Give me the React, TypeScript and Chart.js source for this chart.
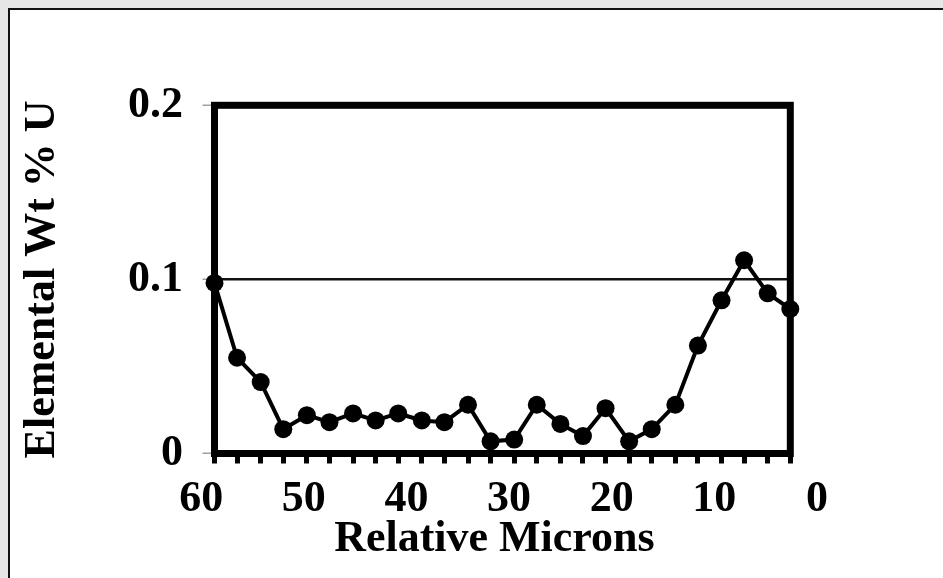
import React, { useEffect, useRef } from 'react';
import { Chart, registerables } from 'chart.js';

Chart.register(...registerables);

// Distance along the traverse (µm) for each analysis spot, read right-to-left
const MICRONS = [
  58.7, 56.5, 54.2, 52.0, 49.7, 47.5, 45.2, 43.0, 40.8, 38.5, 36.3, 34.0, 31.8,
  29.5, 27.3, 25.0, 22.8, 20.6, 18.3, 16.1, 13.8, 11.6, 9.3, 7.1, 4.8, 2.6,
];

// Uranium content (elemental wt %) at each spot
const WT_U = [
  0.098, 0.055, 0.041, 0.014, 0.022, 0.018, 0.023, 0.019, 0.023, 0.019, 0.018,
  0.028, 0.007, 0.008, 0.028, 0.017, 0.010, 0.026, 0.007, 0.014, 0.028, 0.062,
  0.088, 0.111, 0.092, 0.083,
];

const Y_TICKS = [0, 0.1, 0.2];
const X_LABELS = [60, 50, 40, 30, 20, 10, 0];
const X_TITLE = 'Relative Microns';
const Y_TITLE = 'Elemental Wt % U';

const FONT_FAMILY = "'Liberation Serif', 'Times New Roman', Times, serif";
const FONT_SIZE = 44;

// Heavy box around the plotting area, drawn under the markers
const framePlugin = {
  id: 'frame',
  beforeDatasetsDraw(chart: any) {
    const { ctx, chartArea: a } = chart;
    ctx.save();
    ctx.strokeStyle = '#000';
    ctx.lineWidth = 7;
    ctx.lineJoin = 'miter';
    ctx.strokeRect(a.left, a.top, a.right - a.left, a.bottom - a.top);
    ctx.restore();
  },
};

// Round-number labels along the distance axis (0 sits past the last spot)
const xLabelPlugin = {
  id: 'xLabels',
  afterDraw(chart: any) {
    const { ctx, chartArea } = chart;
    const x = chart.scales.x;
    ctx.save();
    ctx.fillStyle = '#000';
    ctx.font = `bold ${FONT_SIZE}px ${FONT_FAMILY}`;
    ctx.textAlign = 'center';
    ctx.textBaseline = 'middle';
    X_LABELS.forEach((v) => {
      ctx.fillText(String(v), x.getPixelForValue(v), x.top + 46.5);
    });
    ctx.fillText(X_TITLE, (chartArea.left + chartArea.right) / 2 - 8, x.top + 86.5);
    ctx.restore();
  },
};

export default function App() {
  const canvasRef = useRef<HTMLCanvasElement | null>(null);

  useEffect(() => {
    const canvas = canvasRef.current;
    if (!canvas) return;
    const font = { family: FONT_FAMILY, size: FONT_SIZE, weight: 'bold' as const };

    const chart = new Chart(canvas, {
      type: 'line',
      data: {
        datasets: [
          {
            data: MICRONS.map((m, i) => ({ x: m, y: WT_U[i] })),
            borderColor: '#000',
            borderWidth: 4,
            pointRadius: 9,
            pointBackgroundColor: '#000',
            pointBorderColor: '#000',
            pointBorderWidth: 0,
            tension: 0,
            clip: false as any,
          },
        ],
      },
      options: {
        animation: false,
        responsive: false,
        devicePixelRatio: 1,
        layout: { padding: { left: 0, top: 95.3, right: 152.7, bottom: 0 } },
        plugins: { legend: { display: false }, tooltip: { enabled: false } },
        scales: {
          x: {
            type: 'linear',
            reverse: true,
            min: MICRONS[MICRONS.length - 1],
            max: MICRONS[0],
            border: { display: false },
            grid: {
              drawOnChartArea: false,
              drawTicks: true,
              tickLength: 10,
              tickWidth: 5,
              tickColor: '#000',
            },
            ticks: { display: false },
            afterBuildTicks: (axis: any) => {
              axis.ticks = MICRONS.map((v) => ({ value: v }));
            },
            afterFit: (axis: any) => {
              axis.height = 124.5;
            },
          },
          y: {
            min: Y_TICKS[0],
            max: Y_TICKS[Y_TICKS.length - 1],
            border: { display: false },
            grid: {
              color: (ctx: any) =>
                Math.abs(ctx.tick.value - Y_TICKS[1]) < 1e-9 ? '#111' : 'rgba(0,0,0,0)',
              lineWidth: 2.5,
              tickLength: 12,
              tickColor: '#a0a0a0',
              tickWidth: 1.5,
            },
            afterBuildTicks: (axis: any) => {
              axis.ticks = Y_TICKS.map((v) => ({ value: v }));
            },
            ticks: {
              padding: 19.5,
              color: '#000',
              font,
              callback: (v: any) => String(v),
            },
            title: {
              display: true,
              text: Y_TITLE,
              color: '#000',
              font,
              padding: { top: 6.6, bottom: 0 },
            },
            afterFit: (axis: any) => {
              axis.width = 204.5;
            },
          },
        },
      },
      plugins: [framePlugin, xLabelPlugin],
    });

    return () => chart.destroy();
  }, []);

  return (
    <div style={{ position: 'fixed', inset: 0, background: '#e6e6e6' }}>
      <div
        style={{
          position: 'absolute',
          left: 8,
          top: 8,
          right: 0,
          bottom: 0,
          borderTop: '2px solid #111',
          borderLeft: '2px solid #111',
          background: '#fff',
          overflow: 'hidden',
        }}
      >
        <canvas
          ref={canvasRef}
          width={933}
          height={568}
          style={{ display: 'block', width: 933, height: 568 }}
        />
      </div>
    </div>
  );
}
